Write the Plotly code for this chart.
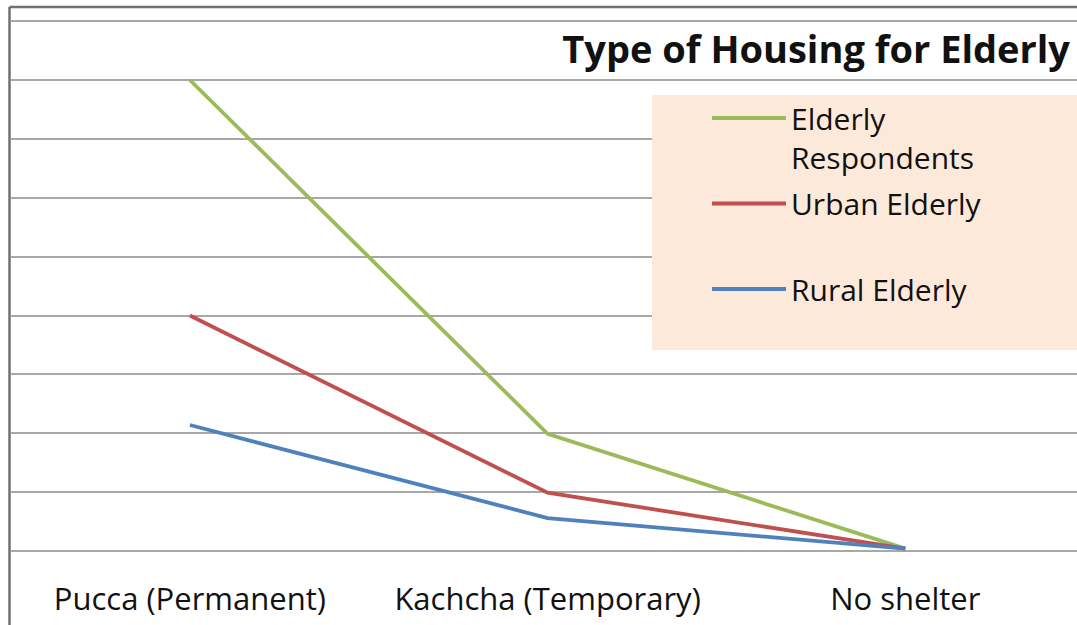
import plotly.graph_objects as go

categories = ["Pucca (Permanent)", "Kachcha (Temporary)", "No shelter"]
elderly_respondents = [8.0, 1.99, 0.04]
urban_elderly = [4.0, 0.99, 0.04]
rural_elderly = [2.14, 0.56, 0.04]

series_names = ["Elderly<br>Respondents", "Urban Elderly<br>\u00a0", "Rural Elderly"]
series_colors = ["#9bbb59", "#c0504d", "#4f81bd"]
series_values = [elderly_respondents, urban_elderly, rural_elderly]

FONT = "Open Sans"

fig = go.Figure()
for i, (name, vals, col) in enumerate(zip(series_names, series_values, series_colors)):
    fig.add_trace(go.Scatter(
        x=[0, 1, 2], y=vals, mode="lines", name=name,
        line=dict(color=col, width=3.8),
        legendgroup=f"g{i}", hoverinfo="skip",
    ))

L, T, B = 11, 7, 74
W, H = 1077, 625
pw, ph = W - L, H - T - B

fig.update_layout(
    width=W, height=H,
    margin=dict(l=L, r=0, t=T, b=B),
    paper_bgcolor="white", plot_bgcolor="white",
    font=dict(family=FONT, color="#111111"),
    title=dict(text="<b>Type of Housing for Elderly</b>", xref="container", yref="container",
               x=1070 / W, xanchor="right", y=1 - 50 / H, yanchor="middle",
               font=dict(family=FONT, size=38, color="#111111")),
    xaxis=dict(range=[-0.5, 2.48], tickmode="array", tickvals=[0, 1, 2], ticktext=categories,
               showgrid=False, zeroline=False, showline=False, ticks="",
               tickfont=dict(family=FONT, size=31, color="#111111"), ticklabelstandoff=27,
               fixedrange=True),
    yaxis=dict(range=[0, 9.24], dtick=1, showticklabels=False, showgrid=True,
               gridcolor="#a8a8a8", gridwidth=2, zeroline=True, zerolinecolor="#a8a8a8",
               zerolinewidth=2, showline=False, ticks="", fixedrange=True),
    showlegend=True,
    legend=dict(x=(707 - L) / pw, xanchor="left", y=1 - (92 - T) / ph, yanchor="top",
                bgcolor="rgba(0,0,0,0)", font=dict(family=FONT, size=30, color="#111111"),
                valign="top", itemwidth=74, tracegroupgap=4.5),
    shapes=[
        dict(type="rect", xref="paper", yref="paper",
             x0=(652 - L) / pw, x1=1.02, y0=1 - (350 - T) / ph, y1=1 - (95 - T) / ph,
             fillcolor="#fde9d9", line=dict(width=0), layer="above"),
        dict(type="line", xref="paper", yref="paper", x0=-1.5 / pw, x1=1.01, y0=1, y1=1,
             line=dict(color="#707070", width=2.5)),
        dict(type="line", xref="paper", yref="paper", x0=-1.5 / pw, x1=-1.5 / pw,
             y0=-(B + 5) / ph, y1=1, line=dict(color="#707070", width=2.5)),
    ],
)

fig.write_html("out.html", config={"displayModeBar": False},
               post_script="document.body.style.margin='0';document.body.style.overflow='hidden';")
